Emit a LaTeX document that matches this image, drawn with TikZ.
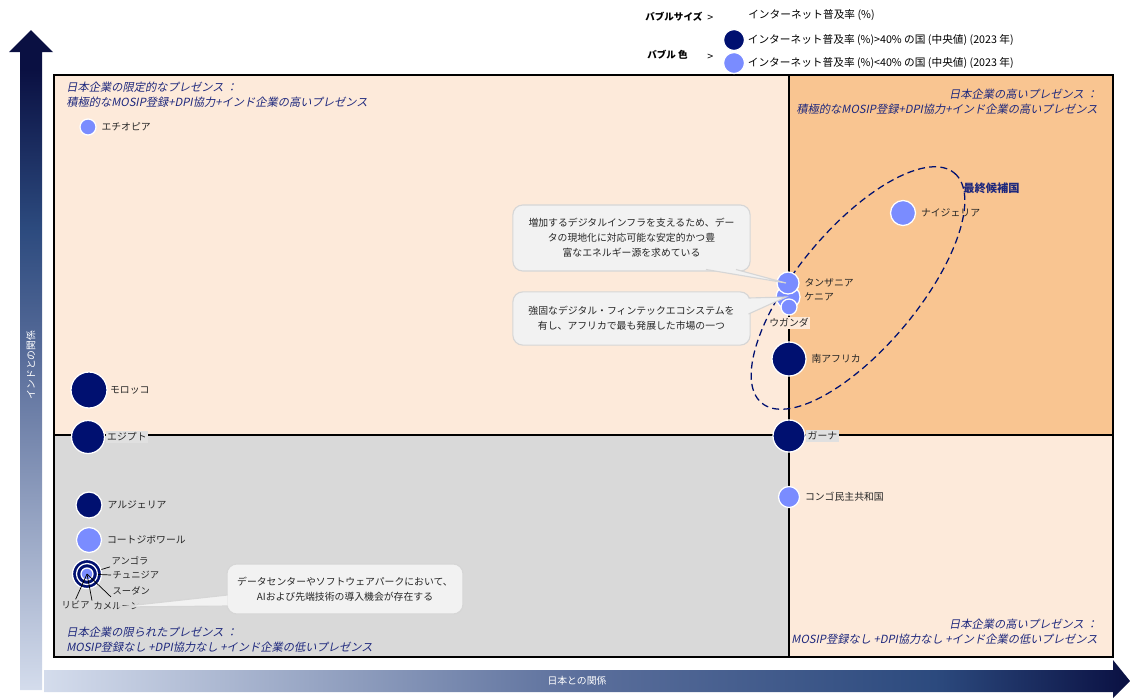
\documentclass[tikz,border=0pt]{standalone}
\usepackage{fontspec}
\setmainfont{Noto Sans CJK JP}
\newfontfamily\slantjp[FakeSlant=0.2]{Noto Sans CJK JP}
\usetikzlibrary{positioning}
\definecolor{navy}{RGB}{0,16,112}
\definecolor{lightblue}{RGB}{122,140,255}
\definecolor{peach}{RGB}{253,234,218}
\definecolor{apricot}{RGB}{249,197,145}
\definecolor{quadgray}{RGB}{217,217,217}
\definecolor{labelbg}{RGB}{224,224,224}
\definecolor{labelnavy}{RGB}{30,40,125}
\definecolor{labeltext}{RGB}{38,38,38}
\definecolor{calloutfill}{RGB}{242,242,242}
\definecolor{calloutline}{RGB}{214,214,214}
\definecolor{axlight}{RGB}{212,220,236}
\definecolor{axmid}{RGB}{90,110,155}
\definecolor{axblue}{RGB}{44,74,126}
\definecolor{axdark}{RGB}{10,16,66}
\pgfdeclarehorizontalshading{japanaxis}{100bp}{color(0bp)=(axlight); color(25bp)=(axlight); color(50bp)=(axmid); color(66bp)=(axblue); color(75bp)=(axdark); color(100bp)=(axdark)}
\pgfdeclareverticalshading{indiaaxis}{100bp}{color(0bp)=(axlight); color(25bp)=(axlight); color(50bp)=(axmid); color(60bp)=(axblue); color(72bp)=(axdark); color(100bp)=(axdark)}
\tikzset{
  bubble/.style={circle,draw=white,line width=0.9pt,inner sep=0pt,minimum size=#1*0.05cm},
  hibubble/.style={bubble=#1,fill=navy},
  lobubble/.style={bubble=#1,fill=lightblue},
  country/.style={inner sep=1pt,font=\fontsize{7}{8}\selectfont,text=labeltext},
  cluster/.style={country,anchor=west,font=\fontsize{6.6}{8}\selectfont},
  quadlabel/.style={inner sep=0pt,font=\slantjp\fontsize{8}{10.6}\selectfont,text=labelnavy},
  callout/.style={rectangle,rounded corners=7pt,fill=calloutfill,draw=calloutline,line width=0.8pt,align=center,font=\fontsize{7}{10.6}\selectfont,text=labeltext},
  tail/.style={draw=calloutline,line width=0.8pt},
  leader/.style={draw=black,line width=0.5pt},
  axislabel/.style={text=white,font=\fontsize{7}{8}\selectfont},
  legendtext/.style={inner sep=0pt,anchor=west,font=\fontsize{7.6}{8}\selectfont},
  legendhead/.style={legendtext,font=\bfseries\fontsize{6.8}{8}\selectfont}
}

\begin{document}
\begin{tikzpicture}[x=0.025cm,y=-0.025cm,node distance=0.08cm]
\useasboundingbox (0,0) rectangle (1130,699);
\fill[peach] (54,75) rectangle (789,435);
\fill[apricot] (789,75) rectangle (1113,435);
\fill[quadgray] (54,435) rectangle (789,657);
\fill[peach] (789,435) rectangle (1113,657);
\draw[line width=0.9pt] (54,75) rectangle (1113,657);
\draw[line width=0.9pt] (789,75) -- (789,657);
\draw[line width=0.9pt] (54,435) -- (1113,435);

\shade[shading=indiaaxis] (20,690) -- (20,52) -- (9,52) -- (31,30) -- (53,52) -- (42,52) -- (42,690) -- cycle;
\shade[shading=japanaxis] (44,670) -- (1113,670) -- (1113,660) -- (1130,681) -- (1113,698) -- (1113,692) -- (44,692) -- cycle;
\node[axislabel] (japanlbl) at (577,681) {日本との関係};
\node[axislabel,rotate=90] (indialbl) at (31,365) {インドとの関係};

\node[quadlabel,align=left,anchor=north west] (tlquad) at (66,82) {日本企業の限定的なプレゼンス ：\\積極的なMOSIP登録+DPI協力+インド企業の高いプレゼンス};
\node[quadlabel,align=right,anchor=north east] (trquad) at (1098,89) {日本企業の高いプレゼンス ：\\積極的なMOSIP登録+DPI協力+インド企業の高いプレゼンス};
\node[quadlabel,align=left,anchor=north west] (blquad) at (66,627) {日本企業の限られたプレゼンス ：\\MOSIP登録なし +DPI協力なし +インド企業の低いプレゼンス};
\node[quadlabel,align=right,anchor=north east] (brquad) at (1098,619) {日本企業の高いプレゼンス ：\\MOSIP登録なし +DPI協力なし +インド企業の低いプレゼンス};

\draw[navy,line width=0.9pt,dash pattern=on 5pt off 3pt,rotate around={50:(858,288)}] (858,288) ellipse [x radius=150,y radius=60];
\node[anchor=west,inner sep=0pt,text=labelnavy,font=\bfseries\fontsize{8}{9}\selectfont] (shortlist) at (963,188) {最終候補国};

\node[lobubble=8] (ethiopia) at (88,127) {};
\node[lobubble=12.5] (nigeria) at (903,213) {};
\node[lobubble=12] (kenya) at (788,297) {};
\node[lobubble=11] (tanzania) at (788,283) {};
\node[lobubble=8] (uganda) at (789,307) {};
\node[hibubble=17] (southafrica) at (789,359) {};
\node[hibubble=18] (morocco) at (89,390) {};
\node[hibubble=16.5] (egypt) at (88,437) {};
\node[hibubble=16] (ghana) at (789,436) {};
\node[lobubble=10.5] (drc) at (789,497) {};
\node[hibubble=13] (algeria) at (89,505) {};
\node[lobubble=12.5] (ivorycoast) at (89,540) {};
\node[hibubble=14.5] (angola) at (87,574) {};
\node[hibubble=10.5] (tunisia) at (87,574) {};
\node[lobubble=6] (core) at (87,574) {};

\node[country,right=of ethiopia] (ethiopialbl) {エチオピア};
\node[country,right=of nigeria] (nigerialbl) {ナイジェリア};
\node[country,right=of tanzania] (tanzanialbl) {タンザニア};
\node[country,right=0.05cm of kenya] (kenyalbl) {ケニア};
\node[country,below=0.02cm of uganda,fill=peach] (ugandalbl) {ウガンダ};
\node[country,right=of southafrica] (southafricalbl) {南アフリカ};
\node[country,right=0.02cm of morocco] (moroccolbl) {モロッコ};
\node[country,right=0.01cm of egypt,fill=labelbg] (egyptlbl) {エジプト};
\node[country,right=0.01cm of ghana,fill=labelbg] (ghanalbl) {ガーナ};
\node[country,right=of drc] (drclbl) {コンゴ民主共和国};
\node[country,right=of algeria] (algerialbl) {アルジェリア};
\node[country,right=of ivorycoast] (ivorycoastlbl) {コートジボワール};
\node[cluster] (angolalbl) at (110,561) {アンゴラ};
\node[cluster] (tunisialbl) at (111,575) {チュニジア};
\node[cluster] (sudanlbl) at (111,591) {スーダン};
\node[cluster] (libyalbl) at (60,605) {リビア};
\node[cluster] (cameroonlbl) at (92,606) {カメルーン};
\draw[leader] (angola) -- (angolalbl.south west);
\draw[leader] (tunisia) -- (tunisialbl.west);
\draw[leader] (core.center) -- (sudanlbl.south west);
\draw[leader] (core.center) -- (libyalbl.north);
\draw[leader] (core.center) -- (cameroonlbl.north west);

\node[callout,minimum width=5.93cm,minimum height=1.65cm] (infranote) at (631.5,238) {増加するデジタルインフラを支えるため、デー\\タの現地化に対応可能な安定的かつ豊\\富なエネルギー源を求めている};
\node[callout,minimum width=5.93cm,minimum height=1.33cm] (fintechnote) at (631.5,318.5) {強固なデジタル・フィンテックエコシステムを\\有し、アフリカで最も発展した市場の一つ};
\node[callout,minimum width=5.9cm,minimum height=1.25cm] (ainote) at (345,589) {データセンターやソフトウェアパークにおいて、\\AIおよび先端技術の導入機会が存在する};
\coordinate (infraA) at (706,269.5);
\coordinate (infraB) at (736,269.5);
\coordinate (infraTip) at (786,283);
\coordinate (fintechA) at (748.5,298);
\coordinate (fintechB) at (748.5,314);
\coordinate (fintechTip) at (786,297);
\coordinate (aiA) at (227.5,595);
\coordinate (aiB) at (227.5,606);
\coordinate (aiTip) at (118,607);
\fill[calloutfill] (infraA) -- (infraTip) -- (infraB) -- cycle;
\draw[tail] (infraA) -- (infraTip) -- (infraB);
\fill[calloutfill] (fintechA) -- (fintechTip) -- (fintechB) -- cycle;
\draw[tail] (fintechA) -- (fintechTip) -- (fintechB);
\fill[calloutfill] (aiA) -- (aiTip) -- (aiB) -- cycle;
\draw[tail] (aiA) -- (aiTip) -- (aiB);

\node[legendhead] (sizehead) at (645,17) {バブルサイズ};
\node[legendtext] (sizegt) at (707,18) {>};
\node[legendtext] (sizetext) at (748,15) {インターネット普及率 (\%)};
\node[legendhead] (colourhead) at (647,55) {バブル 色};
\node[legendtext] (colourgt) at (707,57) {>};
\node[hibubble=10.5] (legdark) at (734,40) {};
\node[lobubble=10.5] (leglight) at (734,63) {};
\node[legendtext,right=0.06cm of legdark] (darktext) {インターネット普及率 (\%)>40\% の国 (中央値) (2023 年)};
\node[legendtext,right=0.06cm of leglight] (lighttext) {インターネット普及率 (\%)<40\% の国 (中央値) (2023 年)};
\end{tikzpicture}
\end{document}
